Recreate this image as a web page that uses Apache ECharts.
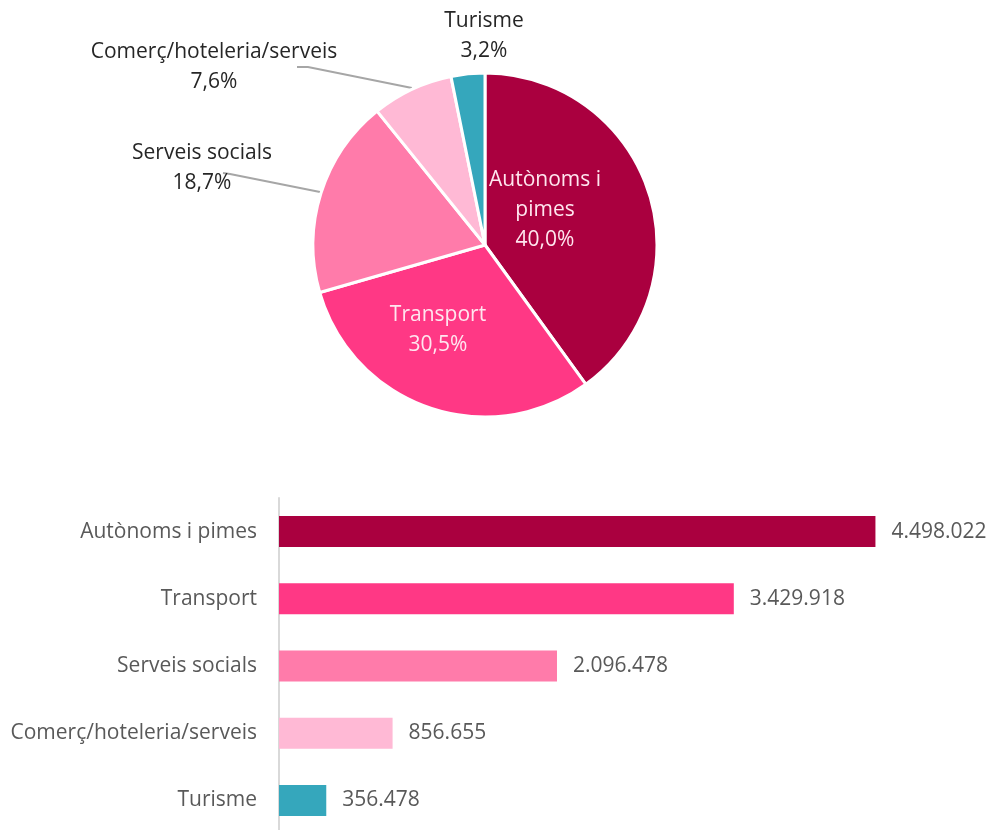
<!DOCTYPE html>
<html>
<head>
<meta charset="utf-8">
<script src="https://cdn.jsdelivr.net/npm/echarts@6/dist/echarts.min.js"></script>
<style>
  html, body { margin: 0; padding: 0; background: #fff; overflow: hidden; }
  #main { width: 992px; height: 840px; }
</style>
</head>
<body>
<div id="main"></div>
<script>
// sectors and their totals
const categories = ['Autònoms i pimes', 'Transport', 'Serveis socials', 'Comerç/hoteleria/serveis', 'Turisme']
const values = [4498022, 3429918, 2096478, 856655, 356478]
const colors = ['#AA003F', '#FF3885', '#FF7BAA', '#FFB9D5', '#35A7BC']

const FONT = 'Open Sans'
const total = values.reduce((a, b) => a + b, 0)

// 4.498.022 style
function fmtThousands(v) {
  return String(v).replace(/\B(?=(\d{3})+(?!\d))/g, '.')
}
function fmtPct(v) {
  return (v / total * 100).toFixed(1).replace('.', ',') + '%'
}

const chart = echarts.init(document.getElementById('main'))

// where each pie label sits (centre of the text block)
const pieLabelPos = [
  [545, 210],
  [438, 330],
  [202, 168],
  [214, 67],
  [484, 36],
]

const pieData = categories.map((name, i) => ({
  name: name,
  value: values[i],
  itemStyle: { color: colors[i] },
  label: i < 2
    ? { color: '#FFE6EF' }
    : { color: '#262626' },
}))

// leader lines for Serveis socials and Comerç (the auto ones bend the wrong way)
const leaderStyle = { stroke: '#A6A6A6', lineWidth: 2, fill: null }

const option = {
  animation: false,
  textStyle: { fontFamily: FONT },
  graphic: [
    { type: 'polyline', shape: { points: [[223, 173], [230, 174], [320, 192]] }, style: leaderStyle },
    { type: 'polyline', shape: { points: [[297, 67], [308, 67], [412, 88]] }, style: leaderStyle },
  ],
  grid: {
    left: 279,
    right: 50,
    top: 498,
    height: 336,
  },
  xAxis: {
    type: 'value',
    min: 0,
    max: 5000000,
    show: false,
  },
  yAxis: {
    type: 'category',
    inverse: true,
    data: categories,
    axisTick: { show: false },
    axisLine: { lineStyle: { color: '#D9D9D9', width: 2 } },
    axisLabel: {
      margin: 22,
      color: '#595959',
      fontSize: 21,
      fontFamily: FONT,
    },
  },
  series: [
    {
      type: 'pie',
      center: [485, 245],
      radius: [0, 172],
      startAngle: 90,
      clockwise: true,
      itemStyle: { borderColor: '#fff', borderWidth: 3 },
      label: {
        show: true,
        position: 'inside',
        fontSize: 21,
        lineHeight: 30,
        fontFamily: FONT,
        formatter: (p) => {
          let name = p.name === 'Autònoms i pimes' ? 'Autònoms i\npimes' : p.name
          return name + '\n' + fmtPct(p.value)
        },
      },
      labelLine: { show: false },
      labelLayout: (params) => {
        let pos = pieLabelPos[params.dataIndex]
        return {
          x: pos[0],
          y: pos[1],
          align: 'center',
          verticalAlign: 'middle',
        }
      },
      data: pieData,
    },
    {
      type: 'bar',
      barWidth: 31,
      data: values.map((v, i) => ({ value: v, itemStyle: { color: colors[i] } })),
      label: {
        show: true,
        position: 'right',
        distance: 16,
        color: '#595959',
        fontSize: 21,
        fontFamily: FONT,
        formatter: (p) => fmtThousands(p.value),
      },
    },
  ],
}

chart.setOption(option)
</script>
</body>
</html>
